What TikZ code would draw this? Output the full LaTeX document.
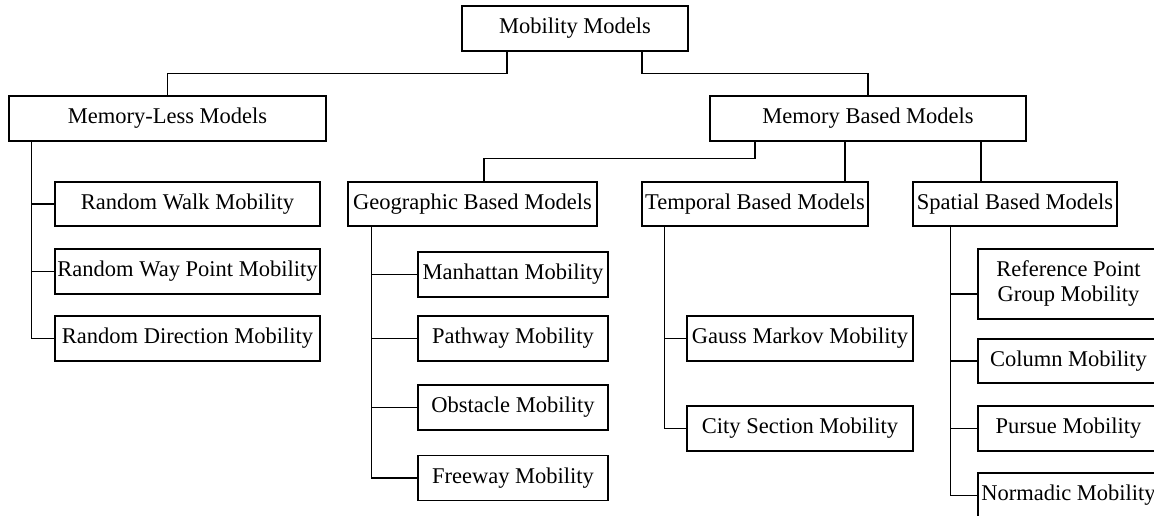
\documentclass[tikz,border=0pt]{standalone}
\usepackage{fontspec}
\setmainfont{Liberation Serif}

\begin{document}
\begin{tikzpicture}[x=1pt,y=-1pt,line width=1.4pt,
    model node/.style={rectangle,draw,inner sep=0pt,minimum height=45pt,
      align=center,font=\fontsize{22.5}{25}\selectfont}]
    \useasboundingbox (0,0) rectangle (1154,516);
    \clip (0,0) rectangle (1154,516);

    \node[model node,minimum width=226pt] (mm) at (575,28.5) {Mobility Models};
    \node[model node,minimum width=317pt] (ml) at (167.5,118.5) {Memory-Less Models};
    \node[model node,minimum width=316pt] (mb) at (868,118.5) {Memory Based Models};

    \node[model node,minimum width=249pt,minimum height=44pt] (geo) at (472.5,204) {Geographic Based Models};
    \node[model node,minimum width=226pt,minimum height=44pt] (tmp) at (755,204) {Temporal Based Models};
    \node[model node,minimum width=204pt,minimum height=44pt] (spa) at (1015,204) {Spatial Based Models};

    % memory-less children
    \node[model node,minimum width=265pt,minimum height=44pt] (rw) at (187.5,204) {Random Walk Mobility};
    \node[model node,minimum width=265pt] (rwp) at (187.5,271.5) {Random Way Point Mobility};
    \node[model node,minimum width=265pt] (rd) at (187.5,338.5) {Random Direction Mobility};

    % geographic children
    \node[model node,minimum width=190pt] (man) at (513,274.5) {Manhattan Mobility};
    \node[model node,minimum width=190pt] (pat) at (513,338.5) {Pathway Mobility};
    \node[model node,minimum width=190pt] (obs) at (513,407.5) {Obstacle Mobility};
    \node[model node,minimum width=190pt] (fre) at (513,478) {Freeway Mobility};

    % temporal children
    \node[model node,minimum width=226pt] (gau) at (800,338.5) {Gauss Markov Mobility};
    \node[model node,minimum width=226pt] (cit) at (800,428.5) {City Section Mobility};

    % spatial children
    \node[model node,minimum width=181pt,minimum height=70pt] (rpg) at (1068.5,284) {Reference Point\\Group Mobility};
    \node[model node,minimum width=181pt,minimum height=44pt] (col) at (1068.5,361) {Column Mobility};
    \node[model node,minimum width=181pt] (pur) at (1068.5,428.5) {Pursue Mobility};
    \node[model node,minimum width=181pt] (nor) at (1068.5,495.5) {Normadic Mobility};

    \draw ([xshift=-68pt]mm.south) -- ++(0,-22pt) -| (ml.north);
    \draw ([xshift=67pt]mm.south) -- ++(0,-22pt) -| (mb.north);

    \draw ([xshift=-113pt]mb.south) -- ++(0,-17pt) -| ([xshift=11.5pt]geo.north);
    \draw ([xshift=-23pt]mb.south) -- ([xshift=-23pt]mb.south |- tmp.north);
    \draw ([xshift=113pt]mb.south) -- ([xshift=113pt]mb.south |- spa.north);

    \draw ([xshift=23pt]ml.south west) |- (rw.west);
    \draw ([xshift=23pt]ml.south west) |- (rwp.west);
    \draw ([xshift=23pt]ml.south west) |- (rd.west);

    \draw ([xshift=24pt]geo.south west) |- (man.west);
    \draw ([xshift=24pt]geo.south west) |- (pat.west);
    \draw ([xshift=24pt]geo.south west) |- (obs.west);
    \draw ([xshift=24pt]geo.south west) |- (fre.west);

    \draw ([xshift=23pt]tmp.south west) |- (gau.west);
    \draw ([xshift=23pt]tmp.south west) |- (cit.west);

    \draw ([xshift=38pt]spa.south west) |- ([yshift=-10pt]rpg.west);
    \draw ([xshift=38pt]spa.south west) |- (col.west);
    \draw ([xshift=38pt]spa.south west) |- (pur.west);
    \draw ([xshift=38pt]spa.south west) |- (nor.west);
\end{tikzpicture}
\end{document}
